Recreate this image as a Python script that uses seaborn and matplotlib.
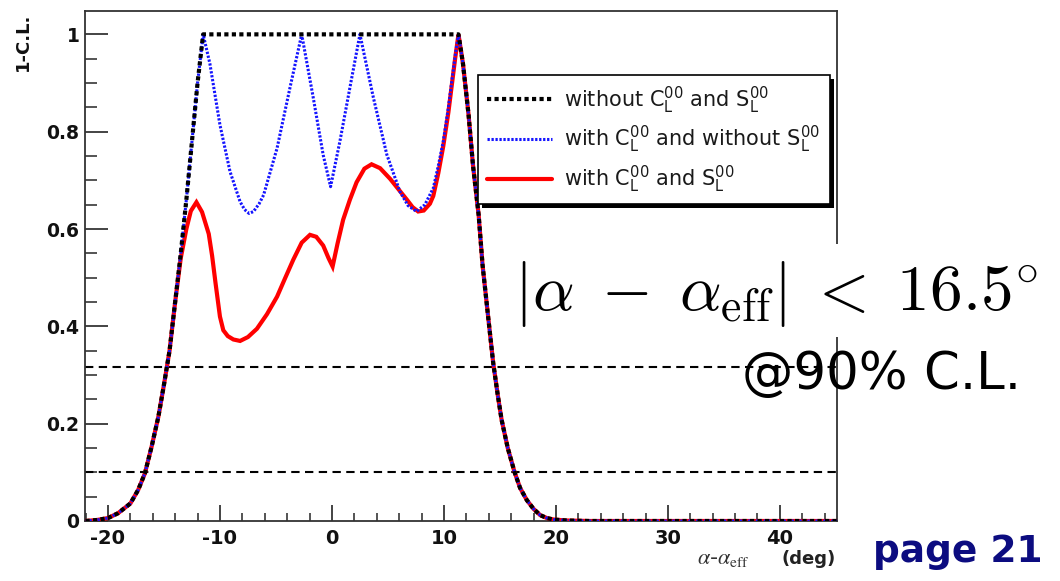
import matplotlib
matplotlib.use("Agg")
import matplotlib.pyplot as plt
from matplotlib.patches import Rectangle
from matplotlib.transforms import IdentityTransform
from matplotlib.lines import Line2D
import seaborn as sns

# ---------------- data ----------------
left_tail_x = [-22, -21, -20, -19.1, -18.0, -17.3, -16.7, -16.1, -15.5, -15.0, -14.5, -14.0]
left_tail_y = [0.0, 0.002, 0.006, 0.016, 0.036, 0.064, 0.098, 0.153, 0.214, 0.28, 0.35, 0.45]

left_rise_x = [-13.5, -13.0, -12.5, -12.0, -11.5]
left_rise_y = [0.55, 0.66, 0.78, 0.90, 1.0]

right_tail_x = [11.7, 12.2, 12.6, 13.1, 13.45, 13.9, 14.4, 14.8, 15.15, 15.7, 16.3, 16.8,
                17.4, 18.0, 18.6, 19.2, 19.8, 21, 23, 45.1]
right_tail_y = [0.94, 0.835, 0.73, 0.629, 0.526, 0.43, 0.325, 0.26, 0.208, 0.15, 0.101, 0.068,
                0.043, 0.025, 0.012, 0.006, 0.003, 0.001, 0.0, 0.0]

# without C00 and S00 : plateau at 1
black_mid_x = [11.3]
black_mid_y = [1.0]

# with C00, without S00
blue_mid_x = [-10.9, -10.0, -9.1, -8.2, -7.8, -7.4, -7.0, -6.5, -6.1, -4.9, -3.75, -2.7,
              -1.67, -0.78, -0.12, 0.71, 1.6, 2.5, 3.7, 4.9, 6.07, 6.8, 7.56, 8.3, 9.05,
              9.5, 9.94, 10.4, 10.7, 11.0, 11.3]
blue_mid_y = [0.94, 0.814, 0.718, 0.656, 0.640, 0.632, 0.636, 0.652, 0.67, 0.766, 0.89, 1.0,
              0.87, 0.752, 0.687, 0.78, 0.89, 1.0, 0.87, 0.753, 0.677, 0.648, 0.636, 0.65, 0.684,
              0.73, 0.78, 0.85, 0.903, 0.955, 1.0]

# with C00 and S00
red_mid_x = [-13.5, -13.0, -12.6, -12.1, -11.6, -11.0, -10.7, -10.4, -10.0, -9.7, -9.3, -8.8,
             -8.2, -7.5, -6.7, -5.8, -4.9, -4.2, -3.45, -2.7, -1.96, -1.4, -0.78, -0.3, 0.06,
             0.5, 1.0, 1.6, 2.2, 2.9, 3.54, 4.3, 5.2, 6.0, 6.7, 7.2, 7.7, 8.2, 8.75, 9.05,
             9.5, 9.94, 10.4, 10.7, 11.0, 11.3]
red_mid_y = [0.54, 0.60, 0.637, 0.655, 0.635, 0.59, 0.545, 0.49, 0.42, 0.392, 0.380, 0.373,
             0.370, 0.378, 0.395, 0.425, 0.461, 0.498, 0.537, 0.572, 0.588, 0.584, 0.566, 0.54, 0.523,
             0.57, 0.619, 0.66, 0.696, 0.724, 0.733, 0.725, 0.703, 0.68, 0.66, 0.645, 0.636, 0.638, 0.652, 0.668,
             0.715, 0.77, 0.84, 0.895, 0.95, 1.0]

cl_levels = [0.317, 0.1]

x_ticks = [-20, -10, 0, 10, 20, 30, 40]
x_ticklabels = ["-20", "-10", "0", "10", "20", "30", "40"]
y_ticks = [0, 0.2, 0.4, 0.6, 0.8, 1.0]
y_ticklabels = ["0", "0.2", "0.4", "0.6", "0.8", "1"]

labels = [r"without $\mathregular{C_L^{00}}$ and $\mathregular{S_L^{00}}$",
          r"with $\mathregular{C_L^{00}}$ and without $\mathregular{S_L^{00}}$",
          r"with $\mathregular{C_L^{00}}$ and $\mathregular{S_L^{00}}$"]

# ---------------- series assembly ----------------
black_x = left_tail_x + left_rise_x + black_mid_x + right_tail_x
black_y = left_tail_y + left_rise_y + black_mid_y + right_tail_y
blue_x = left_tail_x + left_rise_x + blue_mid_x + right_tail_x
blue_y = left_tail_y + left_rise_y + blue_mid_y + right_tail_y
red_x = left_tail_x + red_mid_x + right_tail_x
red_y = left_tail_y + red_mid_y + right_tail_y

# ---------------- figure ----------------
sns.set_style("white")
plt.rcParams["font.family"] = ["DejaVu Sans"]

W, H = 1060, 581
fig = plt.figure(figsize=(W / 100, H / 100), dpi=100)
ax = fig.add_axes([85 / W, 1 - 521 / H, (837 - 85) / W, (521 - 11) / H])

red_style = dict(color="#ff0000", lw=3.0, solid_joinstyle="miter", zorder=3)
blue_style = dict(color="#1414ff", lw=2.2, linestyle=(0, (0.75, 0.55)), zorder=4)
black_style = dict(color="black", lw=3.0, linestyle=(0, (1.0, 0.8)), zorder=5)

sns.lineplot(x=red_x, y=red_y, ax=ax, sort=False, estimator=None, **red_style)
sns.lineplot(x=blue_x, y=blue_y, ax=ax, sort=False, estimator=None, **blue_style)
sns.lineplot(x=black_x, y=black_y, ax=ax, sort=False, estimator=None, **black_style)

for lev in cl_levels:
    ax.axhline(lev, color="black", lw=1.5, linestyle=(0, (4, 2.6)), zorder=2)

ax.set_xlim(-22.05, 45.1)
ax.set_ylim(0, 1.048)

ax.set_xticks(x_ticks)
ax.set_xticklabels(x_ticklabels, fontweight="bold", fontsize=14)
ax.set_yticks(y_ticks)
ax.set_yticklabels(y_ticklabels, fontweight="bold", fontsize=13.5)
ax.set_xticks([v for v in range(-22, 46, 2)], minor=True)
ax.set_yticks([i * 0.05 for i in range(0, 21)], minor=True)

ax.tick_params(axis="y", which="major", direction="in", length=16.5, width=1.1, pad=4,
               left=True, right=False, colors="#111111")
ax.tick_params(axis="y", which="minor", direction="in", length=8.6, width=1.1, left=True, right=False)
ax.tick_params(axis="x", which="major", direction="in", length=11.5, width=1.1, pad=6,
               bottom=True, top=False, colors="#111111")
ax.tick_params(axis="x", which="minor", direction="in", length=5.8, width=1.1, bottom=True, top=False)
for sp in ax.spines.values():
    sp.set_color("#333333")
    sp.set_linewidth(1.3)
ax.set_xlabel("")
ax.set_ylabel("")

# legend
handles = [Line2D([], [], **{k: v for k, v in black_style.items() if k != "zorder"}),
           Line2D([], [], **{k: v for k, v in blue_style.items() if k != "zorder"}),
           Line2D([], [], **{k: v for k, v in red_style.items() if k != "zorder"})]
leg = ax.legend(handles, labels, loc="upper left", bbox_to_anchor=(478 / W, 1 - 75 / H),
                bbox_transform=fig.transFigure, frameon=True, fancybox=False,
                edgecolor="black", framealpha=1, fontsize=15, handlelength=3.1,
                handletextpad=0.6, borderpad=0.45, labelspacing=0.4, borderaxespad=0)
leg.get_frame().set_linewidth(1.2)
for t in leg.get_texts():
    t.set_color("#1a1a1a")
leg.set_zorder(20)

fig.canvas.draw()
bb = leg.get_window_extent()
shadow = Rectangle((bb.x0 + 4, bb.y0 - 4), bb.width, bb.height, transform=IdentityTransform(),
                   facecolor="black", edgecolor="none", zorder=19, clip_on=False)
ax.add_patch(shadow)

# axis labels
fig.text(23 / W, 1 - 13 / H, "1-C.L.", rotation=90, ha="center", va="top",
         fontweight="bold", fontsize=13, color="#111111")
fig.text(697 / W, 1 - 564 / H, r"$\alpha$-$\alpha_{\rm eff}$", ha="left", va="baseline",
         fontsize=16, color="#333333", math_fontfamily="stix")
fig.text(836 / W, 1 - 564 / H, "(deg)", ha="right", va="baseline", fontweight="bold",
         fontsize=13, color="#222222")

# slide overlays
fig.add_artist(Rectangle((505 / W, 1 - 337 / H), (W - 505) / W, (337 - 244) / H,
                         transform=fig.transFigure, facecolor="white", edgecolor="none", zorder=10))
fig.text(514 / W, 1 - 310 / H, r"$|\alpha\;-\;\alpha_{\mathrm{eff}}|\;<\;16.5^{\circ}$",
         fontsize=47, math_fontfamily="cm", ha="left", va="baseline", color="black", zorder=11)
fig.text(742 / W, 1 - 389.5 / H, "@90% C.L.", fontsize=37, ha="left", va="baseline",
         color="black", zorder=11)
fig.text(873 / W, 1 - 562 / H, "page 21", fontsize=27, fontweight="bold", ha="left",
         va="baseline", color="#0c0c80", zorder=11)

fig.savefig("out.png", dpi=100)
